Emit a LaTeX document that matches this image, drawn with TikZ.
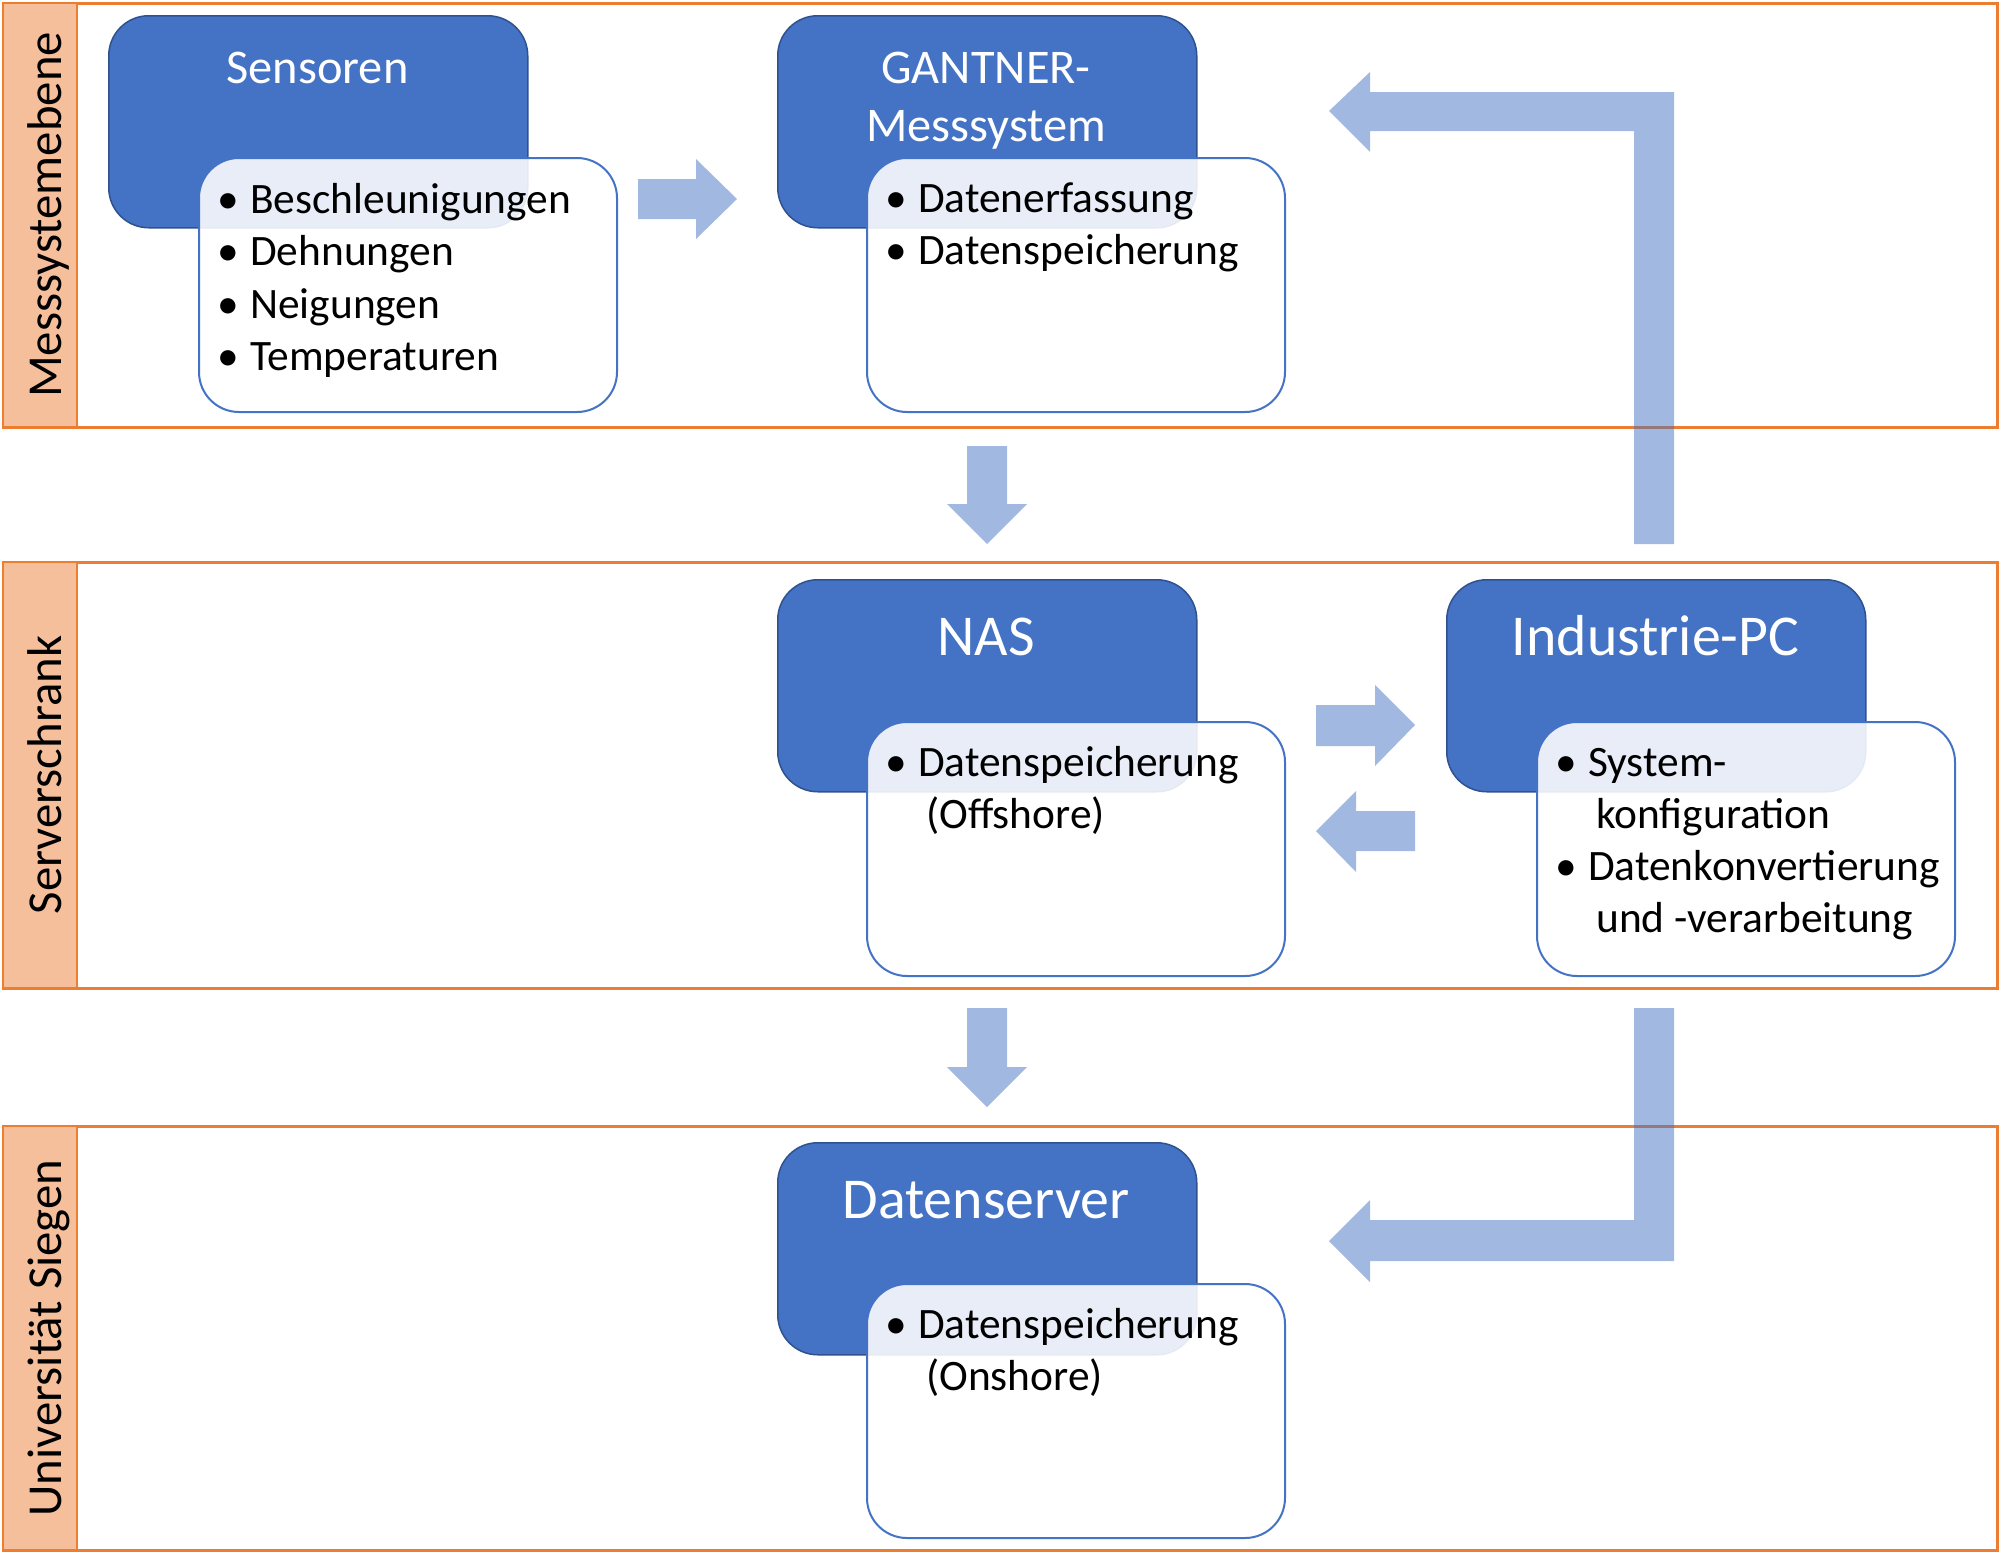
\documentclass[tikz,border=0pt]{standalone}
\usepackage{fontspec}
\setmainfont{Carlito}
\definecolor{blueA}{HTML}{4472C4}
\definecolor{blueB}{HTML}{2F528F}
\definecolor{orangeL}{HTML}{ED7D31}
\definecolor{stripC}{HTML}{F6BF9B}
\newcommand\bulletfont{\fontsize{43.4}{52}\selectfont}
\newcommand\titlefont{\fontsize{48.4}{58}\selectfont}
\newcommand\bigtitlefont{\fontsize{57.8}{68}\selectfont}
\begin{document}
\begin{tikzpicture}[x=1pt,y=-1pt,
  lane/.style={draw=orangeL, line width=3pt},
  strip/.style={fill=stripC, draw=orangeL, line width=1.5pt},
  lanelabel/.style={rotate=90, anchor=base, inner sep=0, font=\fontsize{48.8}{58}\selectfont},
  darkbox/.style={draw=blueB, line width=1.5pt, fill=blueA, rounded corners=40pt,
    minimum width=419pt, minimum height=212pt, inner sep=0, anchor=north west},
  lightbox/.style={draw=blueA, line width=2pt, fill=white, fill opacity=0.88, rounded corners=40pt,
    minimum width=418pt, minimum height=254pt, inner sep=0, anchor=north west},
  title/.style={text=white, anchor=base, inner sep=0, font=\titlefont},
  bigtitle/.style={text=white, anchor=base, inner sep=0, font=\bigtitlefont},
  bul/.style={anchor=base, inner sep=0, font=\bulletfont},
  itm/.style={anchor=base west, inner sep=0, font=\bulletfont},
  flow/.style={fill=blueA, fill opacity=0.5}]
\useasboundingbox (0,0) rectangle (2000,1553);

% lanes
\draw[lane] (3,3) rectangle (1997,427);
\draw[lane] (3,562) rectangle (1997,988);
\draw[lane] (3,1126) rectangle (1997,1550);
\draw[strip] (3,3) rectangle (77,427);
\draw[strip] (3,562) rectangle (77,988);
\draw[strip] (3,1126) rectangle (77,1550);
\node[lanelabel] (l1) at (61,215) {Messsystemebene};
\node[lanelabel] (l2) at (61,775) {Serverschrank};
\node[lanelabel] (l3) at (61,1338) {Universität Siegen};

% dark boxes
\node[darkbox] (sens) at (108,15) {};
\node[darkbox] (gant) at (777,15) {};
\node[darkbox] (nas) at (777,579) {};
\node[darkbox] (ipc) at (1446,579) {};
\node[darkbox] (dsrv) at (777,1142) {};

% titles
\node[title] (tsens) at (317.5,83) {Sensoren};
\node[title] (tgant1) at (986,83) {GANTNER-};
\node[title] (tgant2) at (986,141) {Messsystem};
\node[bigtitle] (tnas) at (986,655) {NAS};
\node[bigtitle] (tipc) at (1655.5,655) {Industrie-PC};
\node[bigtitle] (tdsrv) at (986,1218) {Datenserver};

% light boxes
\node[lightbox] (wsens) at (198,157) {};
\node[lightbox] (wgant) at (866,157) {};
\node[lightbox] (wnas) at (866,721) {};
\node[lightbox] (wipc) at (1536,721) {};
\node[lightbox] (wdsrv) at (866,1283) {};

% bullets Sensoren
\node[bul] (b11) at (228,213) {•};
\node[itm] (s1) at (250,213) {Beschleunigungen};
\node[bul] (b12) at (228,265) {•};
\node[itm] (s2) at (250,265) {Dehnungen};
\node[bul] (b13) at (228,318) {•};
\node[itm] (s3) at (250,318) {Neigungen};
\node[bul] (b14) at (228,370) {•};
\node[itm] (s4) at (250,370) {Temperaturen};

% bullets GANTNER
\node[bul] (b21) at (896,212) {•};
\node[itm] (g1) at (918,212) {Datenerfassung};
\node[bul] (b22) at (896,264) {•};
\node[itm] (g2) at (918,264) {Datenspeicherung};

% bullets NAS
\node[bul] (b31) at (896,776) {•};
\node[itm] (n1) at (918,776) {Datenspeicherung};
\node[itm] (n2) at (926,828) {(Offshore)};

% bullets Industrie-PC
\node[bul] (b41) at (1566,776) {•};
\node[itm] (i1) at (1588,776) {System-};
\node[itm] (i2) at (1596,828) {konfiguration};
\node[bul] (b42) at (1566,880) {•};
\node[itm] (i3) at (1588,880) {Datenkonvertierung};
\node[itm] (i4) at (1596,932) {und -verarbeitung};

% bullets Datenserver
\node[bul] (b51) at (896,1338) {•};
\node[itm] (d1) at (918,1338) {Datenspeicherung};
\node[itm] (d2) at (926,1390) {(Onshore)};

% block arrows
\fill[flow] (638,179) -- (696,179) -- (696,159) -- (737,199) -- (696,239) -- (696,219) -- (638,219) -- cycle;
\fill[flow] (967,446) -- (1007,446) -- (1007,504) -- (1027,504) -- (987,544) -- (947,504) -- (967,504) -- cycle;
\fill[flow] (1316,705) -- (1375,705) -- (1375,685) -- (1415,725) -- (1375,766) -- (1375,746) -- (1316,746) -- cycle;
\fill[flow] (1415,811) -- (1356,811) -- (1356,791) -- (1316,831) -- (1356,872) -- (1356,851) -- (1415,851) -- cycle;
\fill[flow] (967,1008) -- (1007,1008) -- (1007,1067) -- (1027,1067) -- (987,1107) -- (947,1067) -- (967,1067) -- cycle;
\fill[flow] (1634,544) -- (1634,131) -- (1370,131) -- (1370,152) -- (1329,111) -- (1370,72) -- (1370,92) -- (1674,92) -- (1674,544) -- cycle;
\fill[flow] (1634,1008) -- (1674,1008) -- (1674,1261) -- (1370,1261) -- (1370,1282) -- (1329,1241) -- (1370,1200) -- (1370,1220) -- (1634,1220) -- cycle;
\end{tikzpicture}
\end{document}
